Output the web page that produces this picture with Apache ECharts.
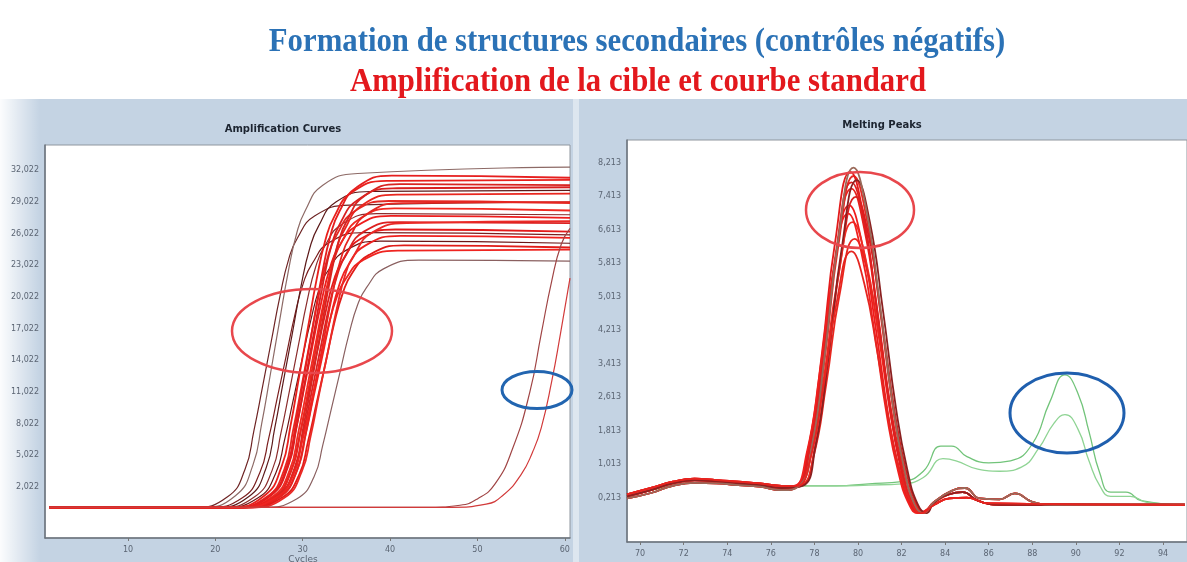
<!DOCTYPE html>
<html>
<head>
<meta charset="utf-8">
<script src="https://cdn.jsdelivr.net/npm/echarts@6/dist/echarts.min.js"></script>
<style>
html,body{margin:0;padding:0;background:#fff;}
#main{width:1187px;height:562px;}
</style>
</head>
<body>
<div id="main"></div>
<script>
// graduations
var ampTicks = [10, 20, 30, 40, 50, 60];
var ampLabels = [2.022, 5.022, 8.022, 11.022, 14.022, 17.022, 20.022, 23.022, 26.022, 29.022, 32.022];
var meltTicks = [70, 72, 74, 76, 78, 80, 82, 84, 86, 88, 90, 92, 94];
var meltLabels = [0.213, 1.013, 1.813, 2.613, 3.413, 4.213, 5.013, 5.813, 6.613, 7.413, 8.213];

// courbes d'amplification (cycle, fluorescence)
var ampRed = [
    [[1,0.1],[21.6,0.1],[25.6,1.2],[27.6,4.0],[28.6,7.8],[29.6,12.5],[30.6,17.1],[31.6,21.7],[32.6,25.4],[33.6,27.6],[35.6,29.9],[39.6,31.0],[60.6,31.1]],
    [[1,0.1],[21.9,0.1],[25.9,1.1],[27.9,3.7],[28.9,7.4],[29.9,11.7],[30.9,16.1],[31.9,20.4],[32.9,23.9],[33.9,25.9],[35.9,28.1],[39.9,29.1],[60.6,28.9]],
    [[1,0.1],[22.1,0.1],[26.1,1.1],[28.1,3.6],[29.1,7.0],[30.1,11.1],[31.1,15.3],[32.1,19.4],[33.1,22.7],[34.1,24.7],[36.1,26.7],[40.1,27.7],[60.6,27.5]],
    [[1,0.1],[22.3,0.1],[26.3,1.2],[28.3,3.9],[29.3,7.7],[30.3,12.2],[31.3,16.7],[32.3,21.2],[33.3,24.9],[34.3,27.0],[36.3,29.2],[40.3,30.3],[60.6,30.4]],
    [[1,0.1],[22.5,0.1],[26.5,1.1],[28.5,3.6],[29.5,7.2],[30.5,11.4],[31.5,15.7],[32.5,19.9],[33.5,23.3],[34.5,25.3],[36.5,27.4],[40.5,28.4],[60.6,28.2]],
    [[1,0.1],[22.6,0.1],[26.6,1.0],[28.6,3.4],[29.6,6.7],[30.6,10.6],[31.6,14.6],[32.6,18.5],[33.6,21.7],[34.6,23.5],[36.6,25.5],[40.6,26.4],[60.6,26.2]],
    [[1,0.1],[22.8,0.1],[26.8,1.1],[28.8,3.8],[29.8,7.5],[30.8,11.9],[31.8,16.4],[32.8,20.8],[33.8,24.4],[34.8,26.4],[36.8,28.7],[40.8,29.7],[60.6,29.8]],
    [[1,0.1],[23.0,0.1],[27.0,1.0],[29.0,3.5],[30.0,6.9],[31.0,10.9],[32.0,15.0],[33.0,19.0],[34.0,22.2],[35.0,24.1],[37.0,26.2],[41.0,27.1],[60.6,27.0]],
    [[1,0.1],[23.2,0.1],[27.2,1.0],[29.2,3.3],[30.2,6.5],[31.2,10.4],[32.2,14.2],[33.2,18.1],[34.2,21.2],[35.2,23.0],[37.2,24.9],[41.2,25.8],[60.6,25.6]],
    [[1,0.1],[23.4,0.1],[27.4,1.1],[29.4,3.7],[30.4,7.3],[31.4,11.6],[32.4,15.9],[33.4,20.3],[34.4,23.7],[35.4,25.7],[37.4,27.9],[41.4,28.9],[60.6,29.0]],
    [[1,0.1],[23.6,0.1],[27.6,1.0],[29.6,3.2],[30.6,6.3],[31.6,10.0],[32.6,13.7],[33.6,17.5],[34.6,20.4],[35.6,22.2],[37.6,24.0],[41.6,24.9],[60.6,24.7]],
    [[1,0.1],[23.9,0.1],[27.9,1.0],[29.9,3.5],[30.9,6.8],[31.9,10.9],[32.9,14.9],[33.9,18.9],[34.9,22.2],[35.9,24.0],[37.9,26.1],[41.9,27.0],[60.6,27.2]],
    [[1,0.1],[22.2,0.1],[26.2,1.2],[28.2,4.0],[29.2,8.0],[30.2,12.7],[31.2,17.4],[32.2,22.1],[33.2,25.9],[34.2,28.1],[36.2,30.4],[40.2,31.5],[60.6,31.3]],
    [[1,0.1],[23.1,0.1],[27.1,1.2],[29.1,3.9],[30.1,7.8],[31.1,12.3],[32.1,16.9],[33.1,21.5],[34.1,25.2],[35.1,27.3],[37.1,29.6],[41.1,30.7],[60.6,30.6]],
    [[1,0.1],[22.9,0.1],[26.9,1.0],[28.9,3.1],[29.9,6.2],[30.9,9.8],[31.9,13.5],[32.9,17.1],[33.9,20.0],[34.9,21.7],[36.9,23.5],[40.9,24.4],[60.6,24.5]]
];
var ampDark = [
    [[1,0.1],[17.4,0.1],[21.4,1.1],[23.4,3.7],[24.4,7.3],[25.4,11.5],[26.4,15.8],[27.4,20.1],[28.4,23.6],[29.4,25.6],[31.4,27.7],[35.4,28.7],[60.6,29.0]],
    [[1,0.1],[18.3,0.1],[22.3,1.2],[24.3,4.1],[25.3,8.0],[26.3,12.7],[27.3,17.5],[28.3,22.2],[29.3,26.0],[30.3,28.2],[32.3,30.6],[36.3,31.7],[60.6,32.3]],
    [[1,0.1],[19.1,0.1],[23.1,1.0],[25.1,3.4],[26.1,6.6],[27.1,10.5],[28.1,14.4],[29.1,18.3],[30.1,21.4],[31.1,23.2],[33.1,25.2],[37.1,26.1],[60.6,25.9]],
    [[1,0.1],[19.8,0.1],[23.8,1.1],[25.8,3.8],[26.8,7.6],[27.8,12.1],[28.8,16.5],[29.8,21.0],[30.8,24.6],[31.8,26.7],[33.8,29.0],[37.8,30.0],[60.6,30.1]],
    [[1,0.1],[20.5,0.1],[24.5,1.1],[26.5,3.6],[27.5,7.1],[28.5,11.2],[29.5,15.4],[30.5,19.6],[31.5,22.9],[32.5,24.8],[34.5,26.9],[38.5,27.9],[60.6,27.8]],
    [[1,0.1],[20.9,0.1],[24.9,1.0],[26.9,3.3],[27.9,6.4],[28.9,10.2],[29.9,14.0],[30.9,17.7],[31.9,20.8],[32.9,22.5],[34.9,24.4],[38.9,25.3],[60.6,25.1]],
    [[1,0.1],[25.3,0.1],[29.3,0.9],[31.3,3.0],[32.3,6.0],[33.3,9.5],[34.3,13.0],[35.3,16.5],[36.3,19.3],[37.3,20.9],[39.3,22.7],[43.3,23.5],[60.6,23.4]]
];
var ampLate = [
    [[1,0.1],[44,0.1],[48,0.3],[50,0.9],[52,2.3],[54,5.6],[56,11.0],[57.3,16.5],[58.5,21.5],[59.6,25.0],[60.6,26.5]],
    [[1,0.1],[47,0.1],[51,0.4],[53,1.3],[55,3.2],[56.3,5.3],[57.3,7.6],[58.5,12.0],[59.5,16.5],[60.6,21.8]]
];

// pics de fusion (température, -dF/dT)
var meltLeads = [
    [[69.4,0.25],[70.5,0.40],[71.5,0.56],[72.5,0.63],[73.5,0.61],[74.5,0.56],[75.5,0.52],[76.5,0.45]],
    [[69.4,0.20],[70.5,0.33],[71.5,0.50],[72.5,0.57],[73.5,0.56],[74.5,0.52],[75.5,0.48],[76.5,0.40]],
    [[69.4,0.30],[70.5,0.45],[71.5,0.60],[72.5,0.67],[73.5,0.64],[74.5,0.60],[75.5,0.56],[76.5,0.50]]
];
var meltTails = [
    [[83.5,0.10],[84.2,0.30],[84.8,0.35],[85.5,0.15],[86.5,0.05],[95,0.05]],
    [[83.5,0.12],[84.3,0.38],[84.9,0.45],[85.6,0.20],[86.5,0.18],[87.2,0.32],[88,0.12],[89,0.05],[95,0.05]],
    [[83.5,0.05],[84.2,0.20],[85,0.22],[86,0.08],[95,0.04]]
];
var meltPeaks = [
    [[77.2,0.5],[77.8,1.40],[78.4,3.50],[79.0,6.00],[79.7,7.60],[80.3,6.61],[80.9,4.56],[81.5,2.28],[82.0,0.90],[82.5,0.05],[82.9,-0.15]],
    [[77.3,0.5],[77.9,1.45],[78.5,3.64],[79.1,6.24],[79.8,7.90],[80.4,6.87],[81.0,4.74],[81.6,2.37],[82.1,0.94],[82.6,0.05],[83.0,-0.15]],
    [[77.1,0.5],[77.7,1.33],[78.3,3.32],[78.9,5.68],[79.6,7.20],[80.2,6.26],[80.8,4.32],[81.4,2.16],[81.9,0.85],[82.4,0.05],[82.8,-0.15]],
    [[77.4,0.5],[78.0,1.36],[78.6,3.41],[79.2,5.84],[79.9,7.40],[80.5,6.44],[81.1,4.44],[81.7,2.22],[82.2,0.88],[82.7,0.05],[83.1,-0.15]],
    [[77.25,0.5],[77.85,1.25],[78.45,3.13],[79.05,5.37],[79.75,6.80],[80.35,5.92],[80.95,4.08],[81.55,2.04],[82.05,0.81],[82.55,0.05],[82.95,-0.15]],
    [[77.15,0.5],[77.75,1.47],[78.35,3.68],[78.95,6.32],[79.65,8.00],[80.25,6.96],[80.85,4.80],[81.45,2.40],[81.95,0.95],[82.45,0.05],[82.85,-0.15]],
    [[77.35,0.5],[77.95,1.18],[78.55,2.95],[79.15,5.05],[79.85,6.40],[80.45,5.57],[81.05,3.84],[81.65,1.92],[82.15,0.76],[82.65,0.05],[83.05,-0.15]],
    [[77.2,0.5],[77.8,1.43],[78.4,3.57],[79.0,6.12],[79.7,7.75],[80.3,6.74],[80.9,4.65],[81.5,2.33],[82.0,0.92],[82.5,0.05],[82.9,-0.15]],
    [[77.05,0.5],[77.65,1.29],[78.25,3.22],[78.85,5.53],[79.55,7.00],[80.15,6.09],[80.75,4.20],[81.35,2.10],[81.85,0.83],[82.35,0.05],[82.75,-0.15]],
    [[77.45,0.5],[78.05,1.44],[78.65,3.59],[79.25,6.16],[79.95,7.80],[80.55,6.79],[81.15,4.68],[81.75,2.34],[82.25,0.92],[82.75,0.05],[83.15,-0.15]],
    [[77.3,0.5],[77.9,1.49],[78.5,3.73],[79.1,6.40],[79.8,8.10],[80.4,7.05],[81.0,4.86],[81.6,2.43],[82.1,0.96],[82.6,0.05],[83.0,-0.15]],
    [[77.2,0.5],[77.8,1.12],[78.4,2.81],[79.0,4.82],[79.7,6.10],[80.3,5.31],[80.9,3.66],[81.5,1.83],[82.0,0.72],[82.5,0.05],[82.9,-0.15]]
];
var meltGreen = [
    [[69.4,0.25],[71,0.45],[72.5,0.58],[75,0.55],[77,0.5],[79,0.5],[80.5,0.55],[82,0.6],[83,0.85],[83.8,1.45],[84.3,1.45],[85,1.2],[86,1.05],[87,1.1],[88,1.5],[88.8,2.5],[89.5,3.15],[90.1,2.7],[90.6,1.8],[91.1,0.8],[91.6,0.35],[92.3,0.35],[93,0.15],[95,0.05]],
    [[69.4,0.25],[71,0.45],[72.5,0.58],[75,0.55],[77,0.5],[79,0.5],[80.5,0.52],[82,0.55],[83,0.7],[83.9,1.15],[84.5,1.1],[85.5,0.9],[86.5,0.85],[87.5,0.95],[88.3,1.4],[89.0,2.0],[89.5,2.2],[90.1,1.85],[90.6,1.1],[91.1,0.5],[91.6,0.25],[92.5,0.25],[93.3,0.1],[95,0.05]]
];

var redColors = ['#e8201c','#e42a24','#ee1c1c','#d91f1f','#f02a22','#e31a1a','#e9261e','#dc2020','#f0201e','#e52520','#e01c18','#ea2a26','#e61e1e','#d82420','#ef2420'];
var darkColors = ['#6e2424','#8d6a66','#7a1e1e','#5c1a1a','#8b2c2c','#6b1515','#8a6060'];
var lateColors = ['#a04444','#d23a3a'];
var meltColors = ['#e8201c','#e42a24','#ee1c1c','#d91f1f','#f02a22','#e31a1a','#e9261e','#dc2020','#f0201e','#8b2020','#9a6a5a','#e52520'];
var greenColors = ['#72c47a','#8fd494'];

function fmt(v){ return v.toFixed(3).replace('.', ','); }

var series = [];
function addLine(data, color, width, xi){
    series.push({
        type:'line', xAxisIndex:xi, yAxisIndex:xi, data:data,
        showSymbol:false, symbol:'none', smooth:0.5,
        lineStyle:{color:color, width:width}, silent:true
    });
}
ampDark.forEach(function(d,i){ addLine(d, darkColors[i], 1.2, 0); });
ampRed.forEach(function(d,i){ addLine(d, redColors[i], 1.8, 0); });
ampLate.forEach(function(d,i){ addLine(d, lateColors[i], 1.2, 0); });
meltGreen.forEach(function(d,i){ addLine(d, greenColors[i], 1.3, 1); });
meltPeaks.forEach(function(d,i){
    addLine(meltLeads[i%3].concat(d, meltTails[i%3]), meltColors[i], 1.8, 1);
});

var labelStyle = {color:'#5b6573', fontSize:8, fontFamily:'DejaVu Sans'};

var chart = echarts.init(document.getElementById('main'));
chart.setOption({
    animation:false,
    grid:[
        {left:45, top:145, width:525, height:393, show:true, backgroundColor:'#ffffff', borderColor:'#8f969e', borderWidth:1},
        {left:627, top:140, width:565, height:402, show:true, backgroundColor:'#ffffff', borderColor:'#8f969e', borderWidth:1}
    ],
    xAxis:[
        {type:'value', gridIndex:0, min:0.5, max:60.6,
         axisLine:{onZero:false, lineStyle:{color:'#6b737c', width:1.5}},
         axisTick:{show:true, length:3, lineStyle:{color:'#777'}, customValues:ampTicks},
         axisLabel:Object.assign({customValues:ampTicks, margin:8}, labelStyle),
         splitLine:{show:false}},
        {type:'value', gridIndex:1, min:69.4, max:95.1,
         axisLine:{onZero:false, lineStyle:{color:'#6b737c', width:1.5}},
         axisTick:{show:true, length:3, lineStyle:{color:'#777'}, customValues:meltTicks},
         axisLabel:Object.assign({customValues:meltTicks, margin:8}, labelStyle),
         splitLine:{show:false}}
    ],
    yAxis:[
        {type:'value', gridIndex:0, min:-2.8, max:34.4,
         axisLine:{show:true, onZero:false, lineStyle:{color:'#6b737c', width:1.5}},
         axisTick:{show:false, customValues:ampLabels},
         axisLabel:Object.assign({customValues:ampLabels, formatter:fmt, margin:6}, labelStyle),
         splitLine:{show:false}},
        {type:'value', gridIndex:1, min:-0.84, max:8.76,
         axisLine:{show:true, onZero:false, lineStyle:{color:'#6b737c', width:1.5}},
         axisTick:{show:false, customValues:meltLabels},
         axisLabel:Object.assign({customValues:meltLabels, formatter:fmt, margin:6}, labelStyle),
         splitLine:{show:false}}
    ],
    series:series,
    graphic:[
        {type:'rect', z:-10, shape:{x:0, y:99, width:1187, height:463}, style:{fill:'#c4d3e3'}},
        {type:'rect', z:-9, shape:{x:0, y:99, width:40, height:463},
         style:{fill:new echarts.graphic.LinearGradient(0,0,1,0,[{offset:0,color:'rgba(255,255,255,0.95)'},{offset:1,color:'rgba(255,255,255,0)'}])}},
        {type:'rect', z:-9, shape:{x:573, y:99, width:6, height:463}, style:{fill:'#dde6ef'}},
        {type:'text', x:637, y:42, scaleX:0.905,
         style:{text:'Formation de structures secondaires (contrôles négatifs)', font:'bold 34px "Liberation Serif"', fill:'#2b72b6', textAlign:'center', textVerticalAlign:'middle', align:'center', verticalAlign:'middle'}},
        {type:'text', x:638, y:82, scaleX:0.905,
         style:{text:'Amplification de la cible et courbe standard', font:'bold 34px "Liberation Serif"', fill:'#e3181d', textAlign:'center', textVerticalAlign:'middle', align:'center', verticalAlign:'middle'}},
        {type:'text', x:283, y:129,
         style:{text:'Amplification Curves', font:'bold 10px "DejaVu Sans"', fill:'#1c2430', textAlign:'center', textVerticalAlign:'middle', align:'center', verticalAlign:'middle'}},
        {type:'text', x:882, y:125,
         style:{text:'Melting Peaks', font:'bold 10px "DejaVu Sans"', fill:'#1c2430', textAlign:'center', textVerticalAlign:'middle', align:'center', verticalAlign:'middle'}},
        {type:'text', x:303, y:560,
         style:{text:'Cycles', font:'9px "DejaVu Sans"', fill:'#5b6573', textAlign:'center', textVerticalAlign:'middle', align:'center', verticalAlign:'middle'}},
        {type:'ellipse', z:100, shape:{cx:312, cy:331, rx:80, ry:42}, style:{fill:'none', stroke:'#e8474c', lineWidth:2.5}},
        {type:'ellipse', z:100, shape:{cx:537, cy:390, rx:35, ry:18.5}, style:{fill:'none', stroke:'#2265b0', lineWidth:3}},
        {type:'ellipse', z:100, shape:{cx:860, cy:210, rx:54, ry:38}, style:{fill:'none', stroke:'#e8474c', lineWidth:2.5}},
        {type:'ellipse', z:100, shape:{cx:1067, cy:413, rx:57, ry:40}, style:{fill:'none', stroke:'#1f5fae', lineWidth:3}}
    ]
});
</script>
</body>
</html>
